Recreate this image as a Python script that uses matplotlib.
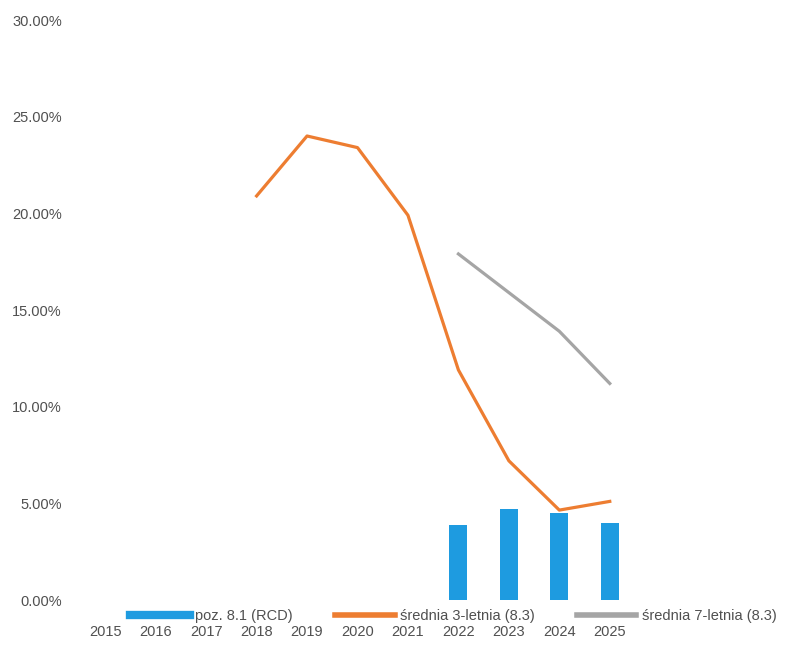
import matplotlib
matplotlib.use("Agg")
import matplotlib.pyplot as plt
from matplotlib.lines import Line2D
import numpy as np

years = ["2015", "2016", "2017", "2018", "2019", "2020", "2021", "2022", "2023", "2024", "2025"]
poz_81 = [None, None, None, None, None, None, None, 3.9, 4.7, 4.5, 4.0]
avg3 = [None, None, None, 20.9, 24.0, 23.4, 19.9, 11.9, 7.2, 4.65, 5.1]
avg7 = [None, None, None, None, None, None, None, 17.9, 15.9, 13.9, 11.2]
yticks = [0, 5, 10, 15, 20, 25, 30]
ytick_labels = ["0.00%", "5.00%", "10.00%", "15.00%", "20.00%", "25.00%", "30.00%"]
legend_labels = ["poz. 8.1 (RCD)", "średnia 3-letnia (8.3)", "średnia 7-letnia (8.3)"]

plt.rcParams['font.family'] = ['Liberation Sans Narrow', 'Liberation Sans', 'DejaVu Sans']

c_blue = "#1E9BE0"
c_orange = "#ED7D31"
c_gray = "#A5A5A5"
c_text = "#505050"

fig = plt.figure(figsize=(7.95, 6.51), dpi=100)
ax = fig.add_axes([80/795, 51/651, 555/795, 580/651])

x = np.arange(len(years))
bx = [i for i, v in zip(x, poz_81) if v is not None]
bv = [v for v in poz_81 if v is not None]
ax.bar(bx, bv, width=0.36, color=c_blue, zorder=1)

def series(vals):
    xs = [i for i, v in zip(x, vals) if v is not None]
    vs = [v for v in vals if v is not None]
    return xs, vs

xs, vs = series(avg3)
ax.plot(xs, vs, color=c_orange, lw=2.3, zorder=3, solid_joinstyle='round')
xs, vs = series(avg7)
ax.plot(xs, vs, color=c_gray, lw=2.3, zorder=2, solid_joinstyle='round')

ax.set_xlim(-0.5, len(years) - 0.5)
ax.set_ylim(0, 30)
ax.set_yticks(yticks)
ax.set_yticklabels(ytick_labels)
ax.set_xticks(x)
ax.set_xticklabels(years)
for s in ax.spines.values():
    s.set_visible(False)
ax.tick_params(axis='both', length=0, labelsize=10.5, labelcolor=c_text)
ax.tick_params(axis='y', pad=13)
ax.tick_params(axis='x', pad=18)

handles = [Line2D([], [], color=c_blue, lw=6),
           Line2D([], [], color=c_orange, lw=4),
           Line2D([], [], color=c_gray, lw=4)]
fig.legend(handles, legend_labels, loc='center', bbox_to_anchor=(0.57, 1 - 616/651),
           ncol=3, frameon=False, fontsize=10.5, handlelength=4.1, columnspacing=2.9,
           handletextpad=0.35, labelcolor=c_text)

fig.savefig("out.png", dpi=100)
